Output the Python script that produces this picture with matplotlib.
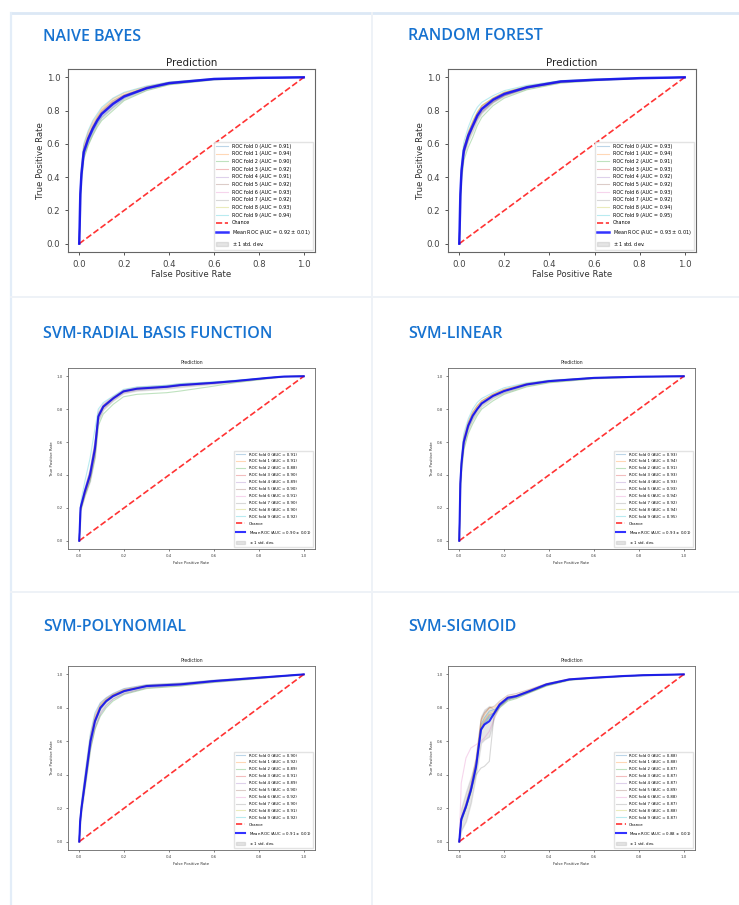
import numpy as np
import matplotlib
matplotlib.use("Agg")
import matplotlib.pyplot as plt
from matplotlib.lines import Line2D

# ---------------- data ----------------
panel_titles = ["NAIVE BAYES", "RANDOM FOREST", "SVM-RADIAL BASIS FUNCTION",
                "SVM-LINEAR", "SVM-POLYNOMIAL", "SVM-SIGMOID"]

# Naive Bayes
nb_fpr = [0, 0.005, 0.01, 0.02, 0.04, 0.06, 0.08, 0.1, 0.15, 0.2, 0.3, 0.4, 0.6, 0.8, 1.0]
nb_mean = [0, 0.30, 0.42, 0.55, 0.63, 0.69, 0.74, 0.78, 0.84, 0.885, 0.935, 0.965, 0.99, 0.997, 1.0]
nb_folds = [
    [0, 0.28, 0.40, 0.53, 0.61, 0.67, 0.72, 0.76, 0.82, 0.875, 0.93, 0.96, 0.988, 0.996, 1],
    [0, 0.33, 0.46, 0.59, 0.67, 0.73, 0.77, 0.81, 0.87, 0.905, 0.945, 0.97, 0.992, 0.998, 1],
    [0, 0.26, 0.38, 0.51, 0.59, 0.65, 0.70, 0.74, 0.80, 0.86, 0.92, 0.955, 0.985, 0.995, 1],
    [0, 0.30, 0.43, 0.56, 0.64, 0.70, 0.75, 0.79, 0.85, 0.89, 0.935, 0.965, 0.99, 0.997, 1],
    [0, 0.29, 0.41, 0.54, 0.62, 0.68, 0.73, 0.77, 0.83, 0.88, 0.93, 0.962, 0.989, 0.997, 1],
    [0, 0.31, 0.42, 0.55, 0.63, 0.70, 0.74, 0.78, 0.84, 0.885, 0.935, 0.965, 0.99, 0.997, 1],
    [0, 0.32, 0.45, 0.58, 0.66, 0.72, 0.76, 0.80, 0.86, 0.895, 0.94, 0.968, 0.991, 0.998, 1],
    [0, 0.30, 0.42, 0.55, 0.64, 0.69, 0.74, 0.78, 0.84, 0.885, 0.932, 0.963, 0.99, 0.997, 1],
    [0, 0.32, 0.44, 0.57, 0.65, 0.71, 0.76, 0.80, 0.86, 0.895, 0.94, 0.968, 0.991, 0.998, 1],
    [0, 0.34, 0.47, 0.60, 0.68, 0.74, 0.78, 0.82, 0.875, 0.91, 0.948, 0.972, 0.993, 0.998, 1],
]
nb_aucs = [0.91, 0.94, 0.90, 0.92, 0.91, 0.92, 0.93, 0.92, 0.93, 0.94]
nb_mean_auc, nb_std_auc = 0.92, 0.01

# Random Forest
rf_fpr = [0, 0.005, 0.01, 0.02, 0.04, 0.06, 0.08, 0.1, 0.15, 0.2, 0.3, 0.45, 0.6, 0.8, 1.0]
rf_mean = [0, 0.30, 0.44, 0.56, 0.65, 0.71, 0.77, 0.81, 0.865, 0.90, 0.94, 0.975, 0.985, 0.995, 1.0]
rf_folds = [
    [0, 0.29, 0.43, 0.55, 0.64, 0.71, 0.77, 0.81, 0.865, 0.90, 0.94, 0.975, 0.985, 0.995, 1],
    [0, 0.32, 0.46, 0.58, 0.67, 0.73, 0.79, 0.83, 0.875, 0.91, 0.945, 0.978, 0.987, 0.996, 1],
    [0, 0.25, 0.38, 0.50, 0.58, 0.64, 0.71, 0.76, 0.83, 0.875, 0.925, 0.965, 0.98, 0.993, 1],
    [0, 0.30, 0.44, 0.56, 0.65, 0.71, 0.77, 0.81, 0.865, 0.90, 0.94, 0.975, 0.985, 0.995, 1],
    [0, 0.28, 0.42, 0.54, 0.63, 0.69, 0.75, 0.79, 0.85, 0.89, 0.935, 0.97, 0.983, 0.994, 1],
    [0, 0.29, 0.42, 0.54, 0.63, 0.70, 0.76, 0.80, 0.855, 0.89, 0.935, 0.972, 0.984, 0.994, 1],
    [0, 0.31, 0.45, 0.57, 0.66, 0.72, 0.78, 0.82, 0.87, 0.905, 0.942, 0.976, 0.986, 0.995, 1],
    [0, 0.28, 0.41, 0.54, 0.63, 0.70, 0.75, 0.79, 0.85, 0.89, 0.935, 0.97, 0.983, 0.994, 1],
    [0, 0.32, 0.46, 0.58, 0.67, 0.74, 0.79, 0.83, 0.875, 0.91, 0.947, 0.978, 0.988, 0.996, 1],
    [0, 0.35, 0.49, 0.61, 0.70, 0.77, 0.82, 0.85, 0.89, 0.92, 0.952, 0.98, 0.99, 0.997, 1],
]
rf_aucs = [0.93, 0.94, 0.91, 0.93, 0.92, 0.92, 0.93, 0.92, 0.94, 0.95]
rf_mean_auc, rf_std_auc = 0.93, 0.01

# SVM - RBF
rbf_fpr = [0, 0.006, 0.025, 0.048, 0.07, 0.085, 0.107, 0.152, 0.197, 0.257, 0.39, 0.45, 0.6, 0.69, 0.84, 0.91, 1.0]
rbf_mean = [0, 0.20, 0.30, 0.40, 0.56, 0.755, 0.815, 0.866, 0.908, 0.924, 0.936, 0.946, 0.96, 0.97, 0.99, 0.998, 1.0]
rbf_folds = [
    [0, 0.21, 0.31, 0.42, 0.60, 0.77, 0.82, 0.87, 0.91, 0.926, 0.938, 0.948, 0.962, 0.972, 0.99, 0.998, 1],
    [0, 0.20, 0.30, 0.41, 0.58, 0.76, 0.82, 0.87, 0.91, 0.926, 0.937, 0.947, 0.961, 0.971, 0.99, 0.998, 1],
    [0, 0.18, 0.27, 0.36, 0.50, 0.70, 0.77, 0.83, 0.875, 0.89, 0.90, 0.91, 0.94, 0.96, 0.985, 0.997, 1],
    [0, 0.19, 0.29, 0.38, 0.54, 0.75, 0.81, 0.865, 0.905, 0.922, 0.934, 0.944, 0.958, 0.968, 0.99, 0.998, 1],
    [0, 0.19, 0.28, 0.37, 0.52, 0.73, 0.80, 0.855, 0.90, 0.915, 0.93, 0.94, 0.955, 0.967, 0.988, 0.997, 1],
    [0, 0.20, 0.29, 0.39, 0.55, 0.75, 0.81, 0.865, 0.907, 0.923, 0.935, 0.945, 0.96, 0.97, 0.99, 0.998, 1],
    [0, 0.21, 0.32, 0.43, 0.60, 0.78, 0.83, 0.875, 0.915, 0.93, 0.94, 0.95, 0.963, 0.973, 0.99, 0.998, 1],
    [0, 0.20, 0.30, 0.40, 0.56, 0.76, 0.815, 0.865, 0.907, 0.924, 0.936, 0.946, 0.96, 0.97, 0.99, 0.998, 1],
    [0, 0.19, 0.29, 0.39, 0.55, 0.755, 0.81, 0.865, 0.905, 0.922, 0.935, 0.945, 0.96, 0.97, 0.99, 0.998, 1],
    [0, 0.23, 0.36, 0.50, 0.68, 0.80, 0.84, 0.88, 0.92, 0.935, 0.945, 0.955, 0.966, 0.975, 0.992, 0.998, 1],
]
rbf_aucs = [0.91, 0.91, 0.88, 0.90, 0.89, 0.90, 0.91, 0.90, 0.90, 0.92]
rbf_mean_auc, rbf_std_auc = 0.90, 0.01

# SVM - Linear
lin_fpr = [0, 0.005, 0.01, 0.02, 0.04, 0.06, 0.08, 0.1, 0.15, 0.2, 0.3, 0.4, 0.6, 0.8, 1.0]
lin_mean = [0, 0.35, 0.47, 0.60, 0.70, 0.76, 0.80, 0.835, 0.88, 0.91, 0.95, 0.97, 0.99, 0.997, 1.0]
lin_folds = [
    [0, 0.34, 0.46, 0.59, 0.69, 0.75, 0.80, 0.83, 0.88, 0.91, 0.948, 0.97, 0.99, 0.997, 1],
    [0, 0.37, 0.49, 0.62, 0.72, 0.78, 0.82, 0.85, 0.89, 0.92, 0.955, 0.973, 0.991, 0.998, 1],
    [0, 0.30, 0.42, 0.55, 0.65, 0.71, 0.76, 0.80, 0.85, 0.89, 0.935, 0.96, 0.985, 0.995, 1],
    [0, 0.35, 0.47, 0.60, 0.70, 0.76, 0.80, 0.835, 0.88, 0.91, 0.95, 0.97, 0.99, 0.997, 1],
    [0, 0.34, 0.46, 0.59, 0.69, 0.76, 0.80, 0.835, 0.88, 0.91, 0.948, 0.969, 0.99, 0.997, 1],
    [0, 0.35, 0.47, 0.60, 0.70, 0.76, 0.80, 0.835, 0.88, 0.91, 0.95, 0.97, 0.99, 0.997, 1],
    [0, 0.37, 0.50, 0.63, 0.72, 0.78, 0.82, 0.85, 0.89, 0.92, 0.955, 0.973, 0.991, 0.998, 1],
    [0, 0.33, 0.45, 0.58, 0.68, 0.74, 0.79, 0.825, 0.87, 0.90, 0.944, 0.966, 0.988, 0.996, 1],
    [0, 0.37, 0.49, 0.62, 0.72, 0.78, 0.82, 0.85, 0.89, 0.92, 0.955, 0.973, 0.991, 0.998, 1],
    [0, 0.39, 0.52, 0.65, 0.74, 0.80, 0.84, 0.865, 0.90, 0.93, 0.96, 0.976, 0.992, 0.998, 1],
]
lin_aucs = [0.93, 0.94, 0.91, 0.93, 0.93, 0.93, 0.94, 0.92, 0.94, 0.95]
lin_mean_auc, lin_std_auc = 0.93, 0.01

# SVM - Polynomial
poly_fpr = [0, 0.004, 0.01, 0.03, 0.05, 0.07, 0.094, 0.12, 0.15, 0.2, 0.3, 0.45, 0.6, 0.8, 1.0]
poly_mean = [0, 0.12, 0.20, 0.40, 0.60, 0.72, 0.80, 0.84, 0.87, 0.90, 0.93, 0.94, 0.96, 0.98, 1.0]
poly_folds = [
    [0, 0.12, 0.20, 0.39, 0.59, 0.71, 0.79, 0.835, 0.865, 0.90, 0.928, 0.94, 0.96, 0.98, 1],
    [0, 0.13, 0.22, 0.43, 0.63, 0.75, 0.82, 0.855, 0.88, 0.91, 0.935, 0.945, 0.963, 0.982, 1],
    [0, 0.10, 0.18, 0.36, 0.55, 0.67, 0.75, 0.80, 0.84, 0.88, 0.915, 0.93, 0.952, 0.975, 1],
    [0, 0.12, 0.21, 0.41, 0.61, 0.73, 0.80, 0.845, 0.875, 0.905, 0.932, 0.942, 0.961, 0.98, 1],
    [0, 0.11, 0.19, 0.37, 0.56, 0.68, 0.76, 0.81, 0.85, 0.885, 0.92, 0.935, 0.955, 0.977, 1],
    [0, 0.12, 0.20, 0.40, 0.60, 0.72, 0.80, 0.84, 0.87, 0.90, 0.93, 0.94, 0.96, 0.98, 1],
    [0, 0.14, 0.23, 0.44, 0.64, 0.76, 0.83, 0.86, 0.885, 0.915, 0.938, 0.948, 0.965, 0.983, 1],
    [0, 0.12, 0.20, 0.39, 0.59, 0.71, 0.79, 0.835, 0.865, 0.895, 0.928, 0.94, 0.96, 0.98, 1],
    [0, 0.13, 0.21, 0.41, 0.61, 0.73, 0.81, 0.845, 0.875, 0.905, 0.932, 0.942, 0.961, 0.98, 1],
    [0, 0.14, 0.24, 0.45, 0.65, 0.77, 0.83, 0.86, 0.885, 0.915, 0.938, 0.948, 0.965, 0.983, 1],
]
poly_aucs = [0.90, 0.92, 0.89, 0.91, 0.89, 0.90, 0.92, 0.90, 0.91, 0.92]
poly_mean_auc, poly_std_auc = 0.91, 0.01

# SVM - Sigmoid
sig_fpr = [0, 0.009, 0.03, 0.052, 0.075, 0.097, 0.112, 0.134, 0.157, 0.18, 0.216, 0.254, 0.313, 0.388, 0.49, 0.6, 0.73, 0.82, 1.0]
sig_mean = [0, 0.134, 0.21, 0.31, 0.45, 0.67, 0.70, 0.72, 0.77, 0.82, 0.86, 0.87, 0.90, 0.94, 0.97, 0.98, 0.99, 0.995, 1.0]
sig_folds = [
    [0, 0.13, 0.21, 0.31, 0.46, 0.70, 0.74, 0.78, 0.79, 0.82, 0.86, 0.87, 0.90, 0.94, 0.97, 0.98, 0.99, 0.995, 1],
    [0, 0.14, 0.22, 0.32, 0.47, 0.72, 0.76, 0.80, 0.80, 0.83, 0.865, 0.875, 0.905, 0.942, 0.971, 0.981, 0.99, 0.995, 1],
    [0, 0.12, 0.20, 0.29, 0.43, 0.66, 0.70, 0.74, 0.76, 0.80, 0.84, 0.855, 0.89, 0.93, 0.965, 0.978, 0.988, 0.994, 1],
    [0, 0.13, 0.20, 0.30, 0.44, 0.68, 0.72, 0.76, 0.77, 0.81, 0.85, 0.865, 0.895, 0.935, 0.968, 0.979, 0.989, 0.995, 1],
    [0, 0.13, 0.21, 0.30, 0.44, 0.67, 0.71, 0.75, 0.77, 0.81, 0.85, 0.865, 0.895, 0.935, 0.968, 0.979, 0.989, 0.995, 1],
    [0, 0.14, 0.23, 0.34, 0.50, 0.73, 0.77, 0.80, 0.81, 0.84, 0.875, 0.885, 0.91, 0.945, 0.973, 0.982, 0.991, 0.996, 1],
    [0, 0.35, 0.50, 0.56, 0.58, 0.60, 0.62, 0.66, 0.74, 0.81, 0.86, 0.87, 0.90, 0.94, 0.97, 0.98, 0.99, 0.995, 1],
    [0, 0.12, 0.20, 0.30, 0.40, 0.44, 0.45, 0.48, 0.78, 0.81, 0.85, 0.865, 0.895, 0.935, 0.968, 0.979, 0.989, 0.995, 1],
    [0, 0.13, 0.21, 0.31, 0.45, 0.69, 0.73, 0.77, 0.78, 0.82, 0.86, 0.87, 0.90, 0.94, 0.97, 0.98, 0.99, 0.995, 1],
    [0, 0.12, 0.20, 0.30, 0.44, 0.67, 0.71, 0.75, 0.77, 0.81, 0.85, 0.865, 0.895, 0.935, 0.968, 0.979, 0.989, 0.995, 1],
]
sig_aucs = [0.88, 0.88, 0.87, 0.87, 0.87, 0.89, 0.88, 0.87, 0.88, 0.87]
sig_mean_auc, sig_std_auc = 0.88, 0.01

# ---------------- figure ----------------
W, H = 739, 905
fig = plt.figure(figsize=(W / 100, H / 100), dpi=100)
fig.patch.set_facecolor("white")


def px_line(x0, y0, x1, y1, color, lw):
    fig.add_artist(Line2D([x0 / W, x1 / W], [1 - y0 / H, 1 - y1 / H],
                          transform=fig.transFigure, color=color, lw=lw))


# card borders
px_line(11, 13, 739, 13, "#dce8f5", 2.0)
px_line(11, 13, 11, 905, "#e3edf8", 1.6)
px_line(372, 13, 372, 905, "#eef2f7", 1.4)
px_line(11, 297, 739, 297, "#eef2f7", 1.4)
px_line(11, 592, 739, 592, "#eef2f7", 1.4)

# (left, top, right, bottom) in pixels, heading position, small fonts
layout = [
    ((68, 69, 315, 252), (43, 41), False),
    ((448, 69, 696, 252), (408, 40), False),
    ((68, 368, 315, 549), (43, 338), True),
    ((448, 368, 695, 549), (408, 338), True),
    ((68, 666, 315, 850), (43, 631), True),
    ((448, 666, 695, 850), (408, 631), True),
]

models = [
    (nb_fpr, nb_mean, nb_folds, nb_aucs, nb_mean_auc, nb_std_auc),
    (rf_fpr, rf_mean, rf_folds, rf_aucs, rf_mean_auc, rf_std_auc),
    (rbf_fpr, rbf_mean, rbf_folds, rbf_aucs, rbf_mean_auc, rbf_std_auc),
    (lin_fpr, lin_mean, lin_folds, lin_aucs, lin_mean_auc, lin_std_auc),
    (poly_fpr, poly_mean, poly_folds, poly_aucs, poly_mean_auc, poly_std_auc),
    (sig_fpr, sig_mean, sig_folds, sig_aucs, sig_mean_auc, sig_std_auc),
]

fold_colors = plt.rcParams["axes.prop_cycle"].by_key()["color"]

for title, (box, head, small), (fpr, mean, folds, aucs, mauc, sauc) in zip(panel_titles, layout, models):
    l, t, r, b = box
    ax = fig.add_axes([l / W, 1 - b / H, (r - l) / W, (b - t) / H])
    fpr = np.array(fpr)
    mean = np.array(mean)
    folds = np.array(folds)

    lw_mean = 1.8 if not small else 1.5
    for i, f in enumerate(folds):
        ax.plot(fpr, f, lw=0.8, alpha=0.3, color=fold_colors[i % 10],
                label=f"ROC fold {i} (AUC = {aucs[i]:.2f})")
    ax.plot([0, 1], [0, 1], linestyle="--", lw=1.2, color="r", alpha=0.8, label="Chance")
    ax.plot(fpr, mean, color="b", lw=lw_mean, alpha=0.8,
            label=f"Mean ROC (AUC = {mauc:.2f} $\\pm$ {sauc:.2f})")
    std = folds.std(axis=0)
    upper = np.minimum(mean + std, 1)
    lower = np.maximum(mean - std, 0)
    ax.fill_between(fpr, lower, upper, color="grey", alpha=0.2, label=r"$\pm$ 1 std. dev.")

    ax.set_xlim(-0.05, 1.05)
    ax.set_ylim(-0.05, 1.05)
    ax.set_xticks([0, 0.2, 0.4, 0.6, 0.8, 1.0])
    ax.set_yticks([0, 0.2, 0.4, 0.6, 0.8, 1.0])

    if small:
        tfs, lfs, ttfs, legfs, tl = 2.8, 2.8, 3.3, 2.8, 1.5
        spw = 0.6
        lspace = 0.75
    else:
        tfs, lfs, ttfs, legfs, tl = 6.2, 6.2, 7.4, 3.5, 2.5
        spw = 0.8
        lspace = 0.55
    ax.tick_params(labelsize=tfs, length=tl, width=spw * 0.8, colors="#444", pad=2 if small else 3)
    ax.set_xlabel("False Positive Rate", fontsize=lfs, color="#333", labelpad=2 if small else 1)
    ax.set_ylabel("True Positive Rate", fontsize=lfs, color="#333", labelpad=2 if small else 1)
    ax.set_title("Prediction", fontsize=ttfs, color="#222", pad=3 if small else 2)
    for s in ax.spines.values():
        s.set_color("#666")
        s.set_linewidth(spw)
    ax.legend(loc="lower right", fontsize=legfs, frameon=True, framealpha=0.8,
              edgecolor="#ddd", fancybox=False, handlelength=2.5, labelspacing=lspace)

    fig.text(head[0] / W, 1 - head[1] / H, title, fontsize=11.5, color="#1672d0",
             family="Open Sans", fontweight="semibold", ha="left", va="baseline")

fig.savefig("out.png", dpi=100, facecolor="white")
